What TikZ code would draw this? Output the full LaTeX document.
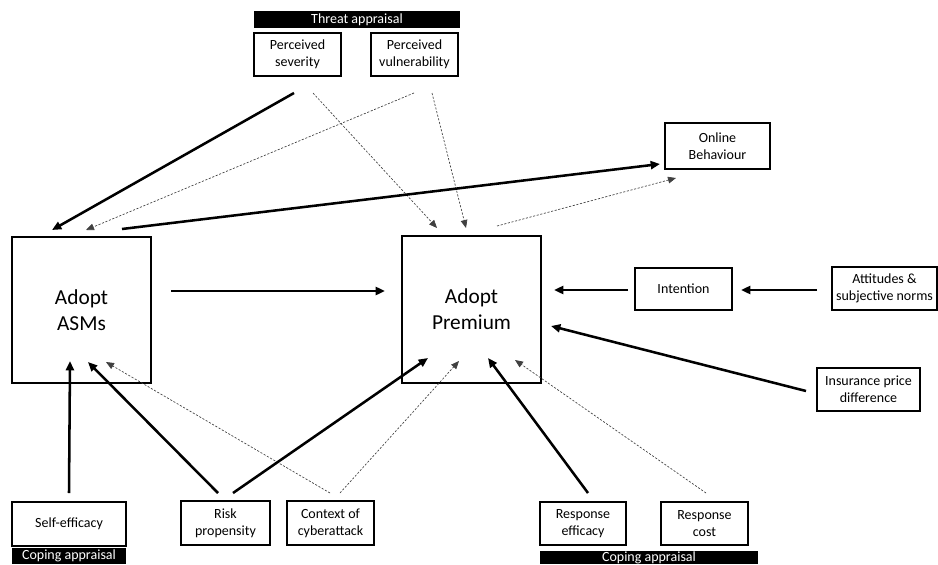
\documentclass[tikz,border=0pt]{standalone}
\usepackage{fontspec}
\setmainfont{Carlito}
\usetikzlibrary{arrows.meta}
\begin{document}
\begin{tikzpicture}[x=0.75pt,y=-0.75pt,
  box/.style={draw,line width=0.8pt,align=center,inner sep=0pt,font=\fontsize{10.5}{13}\selectfont},
  bigbox/.style={draw,line width=0.8pt,align=center,inner sep=0pt,font=\fontsize{16}{19.5}\selectfont},
  bar/.style={fill=black,text=white,inner sep=0pt,font=\fontsize{10.5}{12}\selectfont},
  strong/.style={line width=1.9pt,-{Triangle[length=7pt,width=6pt]}},
  weak/.style={line width=0.5pt,draw=black!75,dash pattern=on 1.6pt off 1.2pt,-{Triangle[length=6pt,width=5pt]}}]
\useasboundingbox (0,0) rectangle (938,564);
% nodes
\node[bar,minimum width=206*0.75pt,minimum height=17*0.75pt] (threat) at (357,19.5) {Threat appraisal};
\node[box,minimum width=87*0.75pt,minimum height=43*0.75pt] (sev) at (297.5,54.5) {Perceived\\severity};
\node[box,minimum width=87*0.75pt,minimum height=43*0.75pt] (vul) at (414.5,54.5) {Perceived\\vulnerability};
\node[box,minimum width=105*0.75pt,minimum height=46*0.75pt] (online) at (717.5,146) {Online\\Behaviour};
\node[bigbox,minimum width=139*0.75pt,minimum height=146*0.75pt] (asms) at (81.5,310) {Adopt\\ASMs};
\node[bigbox,minimum width=139*0.75pt,minimum height=147*0.75pt] (prem) at (471.5,309.5) {Adopt\\Premium};
\node[box,minimum width=97*0.75pt,minimum height=42*0.75pt] (intent) at (683.5,289) {Intention};
\node[box,minimum width=105*0.75pt,minimum height=43*0.75pt] (att) at (884.5,288.5) {Attitudes \&\\subjective norms};
\node[box,minimum width=103*0.75pt,minimum height=43*0.75pt] (ins) at (868.5,389.5) {Insurance price\\difference};
\node[box,minimum width=114*0.75pt,minimum height=44*0.75pt] (self) at (69,524) {Self-efficacy};
\node[bar,minimum width=114*0.75pt,minimum height=16*0.75pt] (cope1) at (69,556) {Coping appraisal};
\node[box,minimum width=89*0.75pt,minimum height=44*0.75pt] (risk) at (225.5,523) {Risk\\propensity};
\node[box,minimum width=87*0.75pt,minimum height=44*0.75pt] (ctx) at (330.5,523) {Context of\\cyberattack};
\node[box,minimum width=86*0.75pt,minimum height=43*0.75pt] (reff) at (583,523.5) {Response\\efficacy};
\node[box,minimum width=87*0.75pt,minimum height=43*0.75pt] (rcost) at (704.5,523.5) {Response\\cost};
\node[bar,minimum width=218*0.75pt,minimum height=13*0.75pt] (cope2) at (649,557.5) {Coping appraisal};
% connector end points
\coordinate (sevA) at (294,93);
\coordinate (sevB) at (313,93);
\coordinate (vulA) at (414,93);
\coordinate (vulB) at (432,93);
\coordinate (asmsT1) at (52,230);
\coordinate (asmsT2) at (86,230);
\coordinate (asmsT3) at (122,229);
\coordinate (premT1) at (437,228);
\coordinate (premT2) at (466,228);
\coordinate (premT3) at (497,226);
\coordinate (onl1) at (660,164);
\coordinate (onl2) at (676,178);
\coordinate (asmsR) at (171,291);
\coordinate (premL) at (385,291);
\coordinate (premR1) at (554,290);
\coordinate (premR2) at (551,326);
\coordinate (intL) at (628,290);
\coordinate (intR) at (741,290);
\coordinate (attL) at (817,290);
\coordinate (insL) at (806,391);
\coordinate (asmsB1) at (70,361);
\coordinate (asmsB2) at (88,362);
\coordinate (asmsB3) at (106,362);
\coordinate (premB1) at (428,358);
\coordinate (premB2) at (459,361);
\coordinate (premB3) at (488,358);
\coordinate (premB4) at (515,360);
\coordinate (selfT) at (69,493);
\coordinate (riskT1) at (218,493);
\coordinate (riskT2) at (233,493);
\coordinate (ctxT1) at (330,493);
\coordinate (ctxT2) at (340,493);
\coordinate (reffT) at (588,493);
\coordinate (rcostT) at (706,493);
% connectors
\draw[strong] (sevA) -- (asmsT1);
\draw[weak] (vulA) -- (asmsT2);
\draw[weak] (sevB) -- (premT1);
\draw[weak] (vulB) -- (premT2);
\draw[strong] (asmsT3) -- (onl1);
\draw[weak] (premT3) -- (onl2);
\draw[strong] (asmsR) -- (premL);
\draw[strong] (intL) -- (premR1);
\draw[strong] (attL) -- (intR);
\draw[strong] (insL) -- (premR2);
\draw[strong] (selfT) -- (asmsB1);
\draw[strong] (riskT1) -- (asmsB2);
\draw[weak] (ctxT1) -- (asmsB3);
\draw[strong] (riskT2) -- (premB1);
\draw[weak] (ctxT2) -- (premB2);
\draw[strong] (reffT) -- (premB3);
\draw[weak] (rcostT) -- (premB4);
\end{tikzpicture}
\end{document}
